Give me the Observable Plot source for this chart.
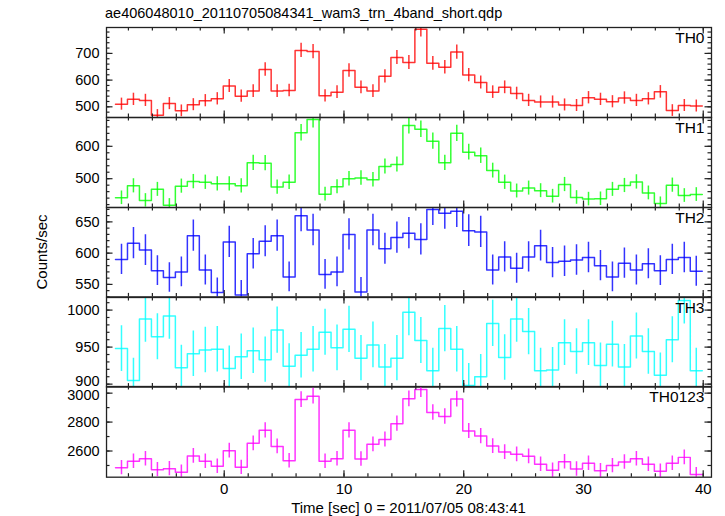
<!DOCTYPE html>
<html><head><meta charset="utf-8">
<script src="https://cdn.jsdelivr.net/npm/d3@7"></script>
<script src="https://cdn.jsdelivr.net/npm/@observablehq/plot@0.6"></script>
<style>
body{margin:0;background:#fff;}
#chart{position:relative;width:725px;height:516px;font-family:"Liberation Sans",Arial,Helvetica,sans-serif;color:#000;overflow:hidden;}
#chart svg{position:absolute;left:0;background:transparent;overflow:visible;}
.lbl{position:absolute;white-space:nowrap;font-size:15px;line-height:1;}
</style></head><body><div id="chart"></div>
<script>
// ---- data ----
const title = "ae406048010_20110705084341_wam3_trn_4band_short.qdp";
const xLabel = "Time [sec] 0 = 2011/07/05 08:43:41";
const yLabel = "Counts/sec";
const binWidth = 1.0;
const binCenter = [-8.58,-7.58,-6.58,-5.58,-4.58,-3.58,-2.58,-1.58,-0.58,0.42,
  1.42,2.42,3.42,4.42,5.42,6.42,7.42,8.42,9.42,10.42,
  11.42,12.42,13.42,14.42,15.42,16.42,17.42,18.42,19.42,20.42,
  21.42,22.42,23.42,24.42,25.42,26.42,27.42,28.42,29.42,30.42,
  31.42,32.42,33.42,34.42,35.42,36.42,37.42,38.42,39.42];
const th0 = [510,528,524,468,512,485,508,523,530,578,540,559,640,559,561,711,707,541,555,636,573,559,614,685,666,790,663,648,705,619,591,555,573,550,524,518,518,507,505,534,528,519,533,524,530,556,486,505,503];
const th1 = [441,478,433,467,418,477,491,489,484,484,478,549,548,474,489,642,683,452,475,500,502,497,538,544,664,653,616,549,640,582,571,525,489,462,471,463,446,482,442,437,438,467,479,490,456,423,480,448,451];
const th2 = [590,616,605,572,561,570,628,573,537,618,533,599,619,628,562,660,637,566,570,630,538,637,607,625,632,622,670,664,667,636,634,573,594,576,594,612,585,587,589,593,580,562,584,573,583,572,590,593,571];
const th3 = [948,905,988,964,992,922,941,946,947,921,937,945,933,973,924,939,947,970,949,974,935,953,923,935,997,959,918,975,947,898,910,982,936,988,971,918,919,956,944,956,925,954,923,965,944,912,960,1013,918];
const th0123 = [2485,2529,2547,2471,2478,2453,2566,2529,2494,2602,2487,2653,2743,2632,2533,2956,2979,2529,2547,2743,2545,2646,2680,2789,2961,3025,2867,2839,2959,2738,2703,2634,2593,2577,2563,2508,2467,2526,2476,2515,2464,2499,2524,2547,2508,2460,2515,2556,2437];
const bands = ["TH0","TH1","TH2","TH3","TH0123"];
const series = [th0, th1, th2, th3, th0123];
const colors = ["#ff0000","#00ff00","#0000ff","#00ffff","#ff00ff"];
const yDomains = [[460,797],[411,689],[530,673],[896,1017],[2419,3046]];
const yMajorTicks = [[500,600,700],[500,600],[550,600,650],[900,950,1000],[2600,2800,3000]];
const yMinorStep = [20,20,10,10,100];
const xMajorTicks = [0,10,20,30,40];
const xMinorStep = 2;
const xDomain = [-9.83, 40.69];

// ---- layout ----
const W = 725, ML = 106, MR = 14;
const panelTops = [27.3,117.3,207.3,296.7,386.3,477];
const innerW = W - ML - MR;
const chart = document.getElementById("chart");
const font = '"Liberation Sans",Arial,Helvetica,sans-serif';
const frameColor = "#222";
const mt = 4;
const fmt = d => String(d);
const tickFont = 14.5;

const xMinor = d3.range(Math.ceil(xDomain[0]/xMinorStep)*xMinorStep, xDomain[1], xMinorStep);

series.forEach((vals, i) => {
  const ph = panelTops[i+1] - panelTops[i];
  const mb = i === 4 ? 40 : 4;
  const H = ph;
  const dom = yDomains[i];
  const yMinor = d3.range(Math.ceil(dom[0]/yMinorStep[i])*yMinorStep[i], dom[1], yMinorStep[i]);
  const pts = binCenter.map((t, j) => ({t, v: vals[j], e: Math.sqrt(vals[j]*binWidth)/binWidth}));
  const steps = binCenter.map((t, j) => ({x: t - binWidth/2, y: vals[j]}));
  steps.push({x: binCenter[binCenter.length-1] + binWidth/2, y: vals[vals.length-1]});
  const tk = {stroke: frameColor, strokeWidth: 1.2};
  // labels near the panel edges are nudged inward a little so they do not collide
  const ticks = yMajorTicks[i];
  const lo = ticks.filter(v => (v - dom[0]) / (dom[1] - dom[0]) < 0.08);
  const hi = ticks.filter(v => (dom[1] - v) / (dom[1] - dom[0]) < 0.08);
  const mid = ticks.filter(v => !lo.includes(v) && !hi.includes(v));
  const ax = {tickSize: 0, tickPadding: 7, fontSize: tickFont, tickFormat: fmt, label: null};
  const marks = [
    Plot.line(steps, {x: "x", y: "y", curve: "step-after", stroke: colors[i], strokeWidth: 1.5, strokeOpacity: 0.8, clip: true}),
    Plot.ruleX(pts, {x: "t", y1: d => d.v - d.e, y2: d => d.v + d.e, stroke: colors[i], strokeWidth: 1.5, strokeOpacity: 0.8, clip: true}),
    Plot.tickY(yMinor, {y: d => d, insetRight: innerW - 3.5, ...tk}),
    Plot.tickY(yMinor, {y: d => d, insetLeft: innerW - 3.5, ...tk}),
    Plot.tickY(ticks, {y: d => d, insetRight: innerW - 6.5, ...tk}),
    Plot.tickY(ticks, {y: d => d, insetLeft: innerW - 6.5, ...tk}),
    Plot.tickX(xMinor, {x: d => d, insetBottom: H - 3.5, ...tk}),
    Plot.tickX(xMinor, {x: d => d, insetTop: H - 3.5, ...tk}),
    Plot.tickX(xMajorTicks, {x: d => d, insetBottom: H - 6.5, ...tk}),
    Plot.tickX(xMajorTicks, {x: d => d, insetTop: H - 6.5, ...tk}),
    Plot.axisY(mid, ax),
    Plot.axisY(lo, {...ax, dy: -3}),
    Plot.axisY(hi, {...ax, dy: 2}),
    Plot.frame({stroke: frameColor, strokeWidth: 1.3}),
    Plot.text([bands[i]], {frameAnchor: "top-right", dx: -7, dy: 4, fontSize: 15.5, fill: "#000"})
  ];
  if (i === 4) marks.push(Plot.axisX(xMajorTicks, {tickSize: 0, tickPadding: 6, fontSize: 15, tickFormat: fmt, label: null}));
  const svg = Plot.plot({
    width: W, height: ph + mt + mb,
    marginLeft: ML, marginRight: MR, marginTop: mt, marginBottom: mb,
    x: {domain: xDomain, axis: i === 4 ? undefined : null},
    y: {domain: dom},
    style: {fontFamily: font, fontSize: "15px", background: "transparent", color: "#000", overflow: "visible"},
    marks
  });
  svg.style.top = (panelTops[i] - mt) + "px";
  chart.appendChild(svg);
});

function addLabel(text, css) {
  const d = document.createElement("div");
  d.className = "lbl";
  d.textContent = text;
  Object.assign(d.style, css);
  chart.appendChild(d);
  return d;
}
addLabel(title, {left: "105px", top: "6px", fontSize: "14.5px"});
addLabel(xLabel, {left: (ML + innerW/2) + "px", top: "500px", transform: "translateX(-50%)"});
addLabel(yLabel, {left: "41px", top: "252px", transform: "translate(-50%,-50%) rotate(-90deg)"});
</script></body></html>
